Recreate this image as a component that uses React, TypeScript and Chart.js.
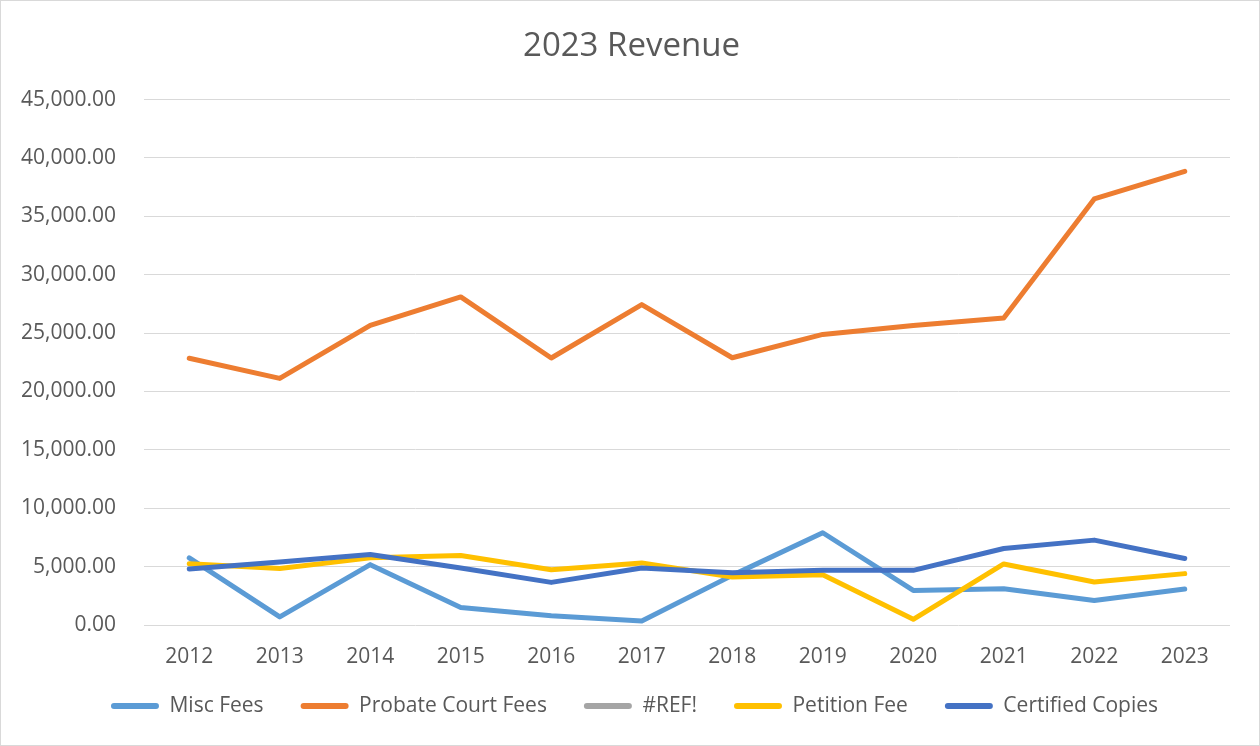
import React, { useEffect, useRef } from "react";
import { Chart, registerables } from "chart.js";

Chart.register(...registerables);

const years = ["2012", "2013", "2014", "2015", "2016", "2017", "2018", "2019", "2020", "2021", "2022", "2023"];
const miscFees = [5750, 690, 5170, 1490, 800, 345, 4250, 7900, 2960, 3100, 2100, 3075];
const probateCourtFees = [22850, 21120, 25660, 28100, 22870, 27440, 22890, 24890, 25660, 26290, 36490, 38860];
const refError: (number | null)[] = [null, null, null, null, null, null, null, null, null, null, null, null];
const petitionFee = [5250, 4830, 5750, 5950, 4740, 5320, 4110, 4310, 490, 5230, 3680, 4400];
const certifiedCopies = [4800, 5400, 6035, 4890, 3650, 4890, 4480, 4680, 4680, 6550, 7270, 5690];

const seriesNames = ["Misc Fees", "Probate Court Fees", "#REF!", "Petition Fee", "Certified Copies"];
const seriesColors = ["#5B9BD5", "#ED7D31", "#A5A5A5", "#FFC000", "#4472C4"];
const TEXT = "#595959";
const FONT = "'Open Sans', sans-serif";
const LEGEND_FONT = 21;
const LEGEND_PAD = 37;

const shiftPlugin = {
  id: "shiftBoxes",
  afterLayout(chart: any) {
    const lg = chart.legend;
    if (lg) {
      const dy = 705 - (lg.top + LEGEND_PAD + LEGEND_FONT / 2);
      lg.top += dy;
      lg.bottom += dy;
      lg.left += 19;
      lg.right += 19;
    }
    const tb = chart.titleBlock;
    if (tb) {
      tb.left += 16;
      tb.right += 16;
    }
  },
};

export default function App() {
  const canvasRef = useRef<HTMLCanvasElement | null>(null);

  useEffect(() => {
    let chart: Chart | null = null;
    let cancelled = false;
    const make = () => {
      if (cancelled || !canvasRef.current) return;
      const seriesData = [miscFees, probateCourtFees, refError, petitionFee, certifiedCopies];
      chart = new Chart(canvasRef.current, {
        type: "line",
        data: {
          labels: years,
          datasets: seriesData.map((d, i) => ({
            label: seriesNames[i],
            data: d,
            borderColor: seriesColors[i],
            backgroundColor: seriesColors[i],
            borderWidth: 5,
            pointRadius: 0,
            pointHoverRadius: 0,
            tension: 0,
            borderCapStyle: "round" as const,
            borderJoinStyle: "round" as const,
            order: 5 - i,
          })),
        },
        plugins: [shiftPlugin],
        options: {
          responsive: false,
          animation: false,
          layout: { padding: { left: 0, right: 29, top: 0, bottom: 7 } },
          plugins: {
            tooltip: { enabled: false },
            title: {
              display: true,
              text: "2023 Revenue",
              color: TEXT,
              font: { family: FONT, size: 33, weight: "normal" },
              padding: { top: 26, bottom: 33 },
            },
            legend: {
              position: "bottom",
              labels: {
                color: TEXT,
                font: { family: FONT, size: LEGEND_FONT },
                boxWidth: 48,
                boxHeight: 6,
                useBorderRadius: true,
                borderRadius: 3,
                padding: LEGEND_PAD,
                generateLabels: (c: any) =>
                  c.data.datasets.map((ds: any, i: number) => ({
                    text: ds.label,
                    fillStyle: ds.borderColor,
                    strokeStyle: ds.borderColor,
                    lineWidth: 0,
                    hidden: !c.isDatasetVisible(i),
                    datasetIndex: i,
                    fontColor: TEXT,
                    borderRadius: 3,
                  })),
              },
            },
          },
          scales: {
            x: {
              offset: true,
              grid: { display: false, drawTicks: false },
              border: { display: false },
              ticks: { color: TEXT, font: { family: FONT, size: 21 }, padding: 19, maxRotation: 0 },
              afterFit: (s: any) => {
                s.height = 45;
              },
            },
            y: {
              min: 0,
              max: 45000,
              grid: { color: "#D9D9D9", lineWidth: 1, drawTicks: false },
              border: { display: false },
              ticks: {
                stepSize: 5000,
                color: TEXT,
                font: { family: FONT, size: 21 },
                padding: 28,
                callback: (v: any) =>
                  Number(v).toLocaleString("en-US", { minimumFractionDigits: 2, maximumFractionDigits: 2 }),
              },
              afterFit: (s: any) => {
                s.width = 143;
              },
            },
          },
        },
      });
    };
    const fontsReady = (document as any).fonts
      ? Promise.all([
          (document as any).fonts.load(`21px "Open Sans"`),
          (document as any).fonts.load(`33px "Open Sans"`),
        ]).catch(() => null)
      : Promise.resolve(null);
    fontsReady.then(make);
    return () => {
      cancelled = true;
      if (chart) chart.destroy();
    };
  }, []);

  return (
    <div
      style={{
        position: "absolute",
        left: 0,
        top: 0,
        width: 1260,
        height: 746,
        border: "1px solid #D9D9D9",
        boxSizing: "border-box",
        background: "#fff",
      }}
    >
      <canvas ref={canvasRef} width={1258} height={744} style={{ display: "block", width: 1258, height: 744 }} />
    </div>
  );
}
